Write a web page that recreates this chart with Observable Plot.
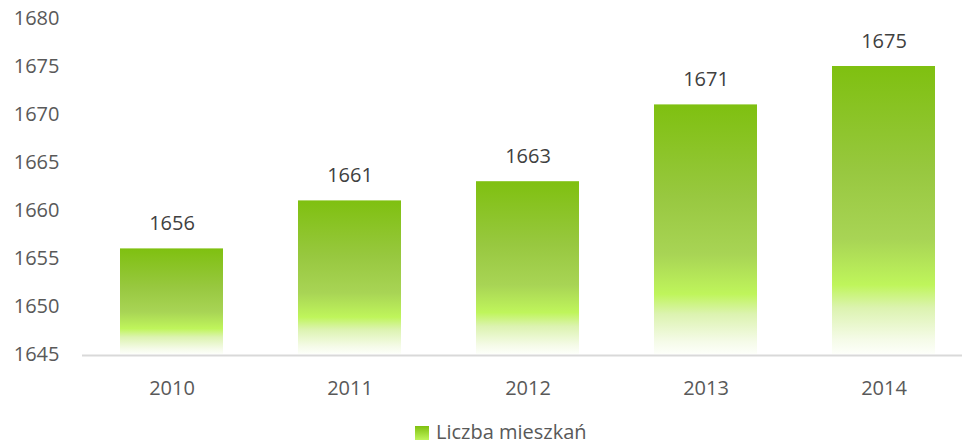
<!DOCTYPE html>
<html>
<head>
<meta charset="utf-8">
<script src="https://cdn.jsdelivr.net/npm/d3@7"></script>
<script src="https://cdn.jsdelivr.net/npm/@observablehq/plot@0.6"></script>
<style>
  body { margin: 0; background: #fff; font-family: "Open Sans", sans-serif; }
  #wrap { position: relative; width: 962px; height: 447px; overflow: hidden; }
  #legend { position: absolute; left: 415px; top: 422px; height: 20px; font-size: 20px; color: #595959; white-space: nowrap; line-height: 20px; }
  #legend .sw { display: inline-block; width: 14px; height: 14px; margin-right: 7px; vertical-align: -1px;
    background: linear-gradient(#7fc010, #bef55b); }
</style>
</head>
<body>
<div id="wrap"><div id="chart"></div><div id="legend"><span class="sw"></span>Liczba mieszkań</div></div>
<script>
const years = ["2010", "2011", "2012", "2013", "2014"];
const values = [1656, 1661, 1663, 1671, 1675];
const yTicks = [1645, 1650, 1655, 1660, 1665, 1670, 1675, 1680];
const seriesName = "Liczba mieszkań";

const data = years.map((y, i) => ({ year: y, value: values[i] }));

const chart = Plot.plot({
  width: 962,
  height: 421,
  marginLeft: 82,
  marginRight: 0,
  marginTop: 18,
  marginBottom: 67,
  style: { fontFamily: "Open Sans, sans-serif", fontSize: "20px", color: "#595959", background: "#fff" },
  x: { domain: years, range: [83, 973], paddingInner: 0.42, paddingOuter: 0.21, label: null },
  y: { domain: [1645, 1680], range: [354, 18], label: null },
  marks: [
    Plot.barY(data, { x: "year", y1: 1645, y2: "value", fill: "url(#barGrad)" }),
    Plot.ruleY([1645], { stroke: "#d9d9d9", strokeWidth: 2, dy: 1 }),
    Plot.text(data, { x: "year", y: "value", text: d => String(d.value), dy: -25, fill: "#404040", fontSize: 20 }),
    Plot.axisY({ ticks: yTicks, tickSize: 0, tickPadding: 23, tickFormat: d => String(d), fill: "#595959", fontSize: 20, label: null }),
    Plot.axisX({ tickSize: 0, tickPadding: 26, fill: "#595959", fontSize: 20, label: null })
  ]
});

const ns = "http://www.w3.org/2000/svg";
const defs = document.createElementNS(ns, "defs");
const grad = document.createElementNS(ns, "linearGradient");
grad.setAttribute("id", "barGrad");
grad.setAttribute("x1", "0"); grad.setAttribute("y1", "0");
grad.setAttribute("x2", "0"); grad.setAttribute("y2", "1");
[
  [0, "#7fc010"], [0.37, "#98c840"], [0.6, "#a8d455"], [0.76, "#bff55b"],
  [0.84, "#dcf3b0"], [0.95, "#f5fbe8"], [1, "#fdfffa"]
].forEach(([o, c]) => {
  const s = document.createElementNS(ns, "stop");
  s.setAttribute("offset", o); s.setAttribute("stop-color", c);
  grad.appendChild(s);
});
defs.appendChild(grad);
chart.insertBefore(defs, chart.firstChild);
document.getElementById("chart").appendChild(chart);
</script>
</body>
</html>
